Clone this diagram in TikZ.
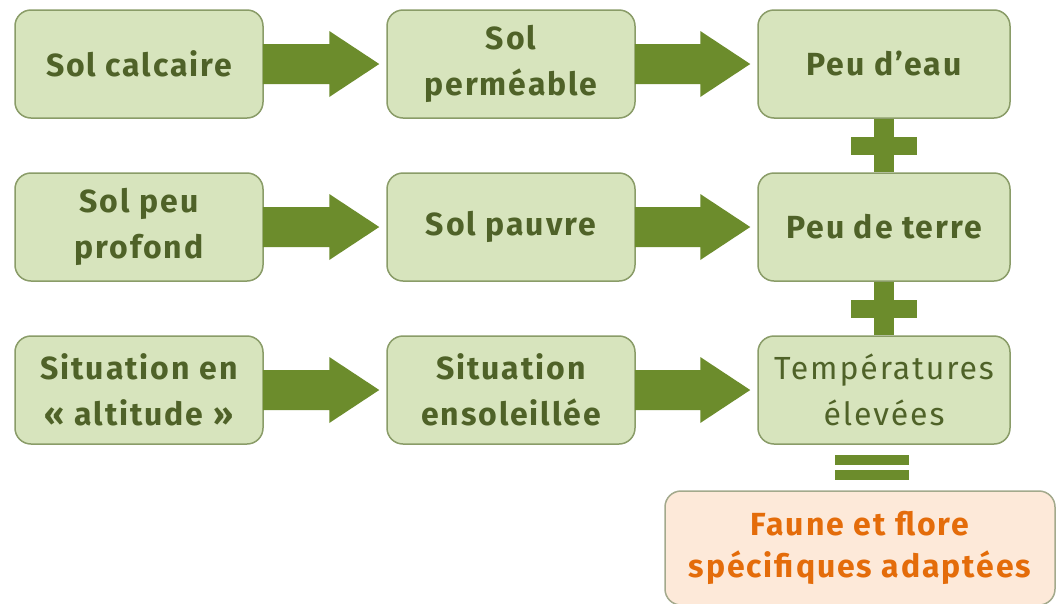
\documentclass[tikz,border=0pt]{standalone}
\usepackage{fontspec}
\setmainfont{Fira Sans}[LetterSpace=6]
\usetikzlibrary{calc}
\definecolor{boxfill}{HTML}{D7E4BD}
\definecolor{boxdraw}{HTML}{8A9C68}
\definecolor{txt}{HTML}{4F6228}
\definecolor{arr}{HTML}{6C8C2C}
\definecolor{endfill}{HTML}{FDE9D9}
\definecolor{enddraw}{HTML}{A3A98C}
\definecolor{endtxt}{HTML}{E46C0A}
\newcommand{\flowarrow}[2]{%
  \fill[arr] ($(#1.east)+(-1,-20)$) -- ($(#2.west)+(-57,-20)$) -- ($(#2.west)+(-57,-33)$)
    -- ($(#2.west)+(-7,0)$) -- ($(#2.west)+(-57,33)$) -- ($(#2.west)+(-57,20)$)
    -- ($(#1.east)+(-1,20)$) -- cycle;}
\newcommand{\plussign}[2]{%
  \fill[arr] ($(#1.south)+(-10,0)$) rectangle ($(#2.north)+(10,0)$);
  \fill[arr] ($($(#1.south)!0.5!(#2.north)$)+(-33,-9)$) rectangle ($($(#1.south)!0.5!(#2.north)$)+(33,9)$);}
\begin{document}
\begin{tikzpicture}[x=1pt,y=-1pt,
  gbox/.style={draw=boxdraw, line width=1.5pt, fill=boxfill, rounded corners=16pt,
    minimum width=248pt, minimum height=108pt, align=center, text=txt,
    font=\fontsize{32}{46}\selectfont\bfseries, inner sep=0pt},
  gboxlight/.style={gbox, font=\fontsize{32}{46}\selectfont},
  fbox/.style={draw=enddraw, line width=1.5pt, fill=endfill, rounded corners=16pt,
    minimum width=390pt, minimum height=114pt, align=center, text=endtxt,
    font=\fontsize{32}{42}\selectfont\bfseries, inner sep=0pt}]
\useasboundingbox (0,0) rectangle (1057,603);
\clip (0,0) rectangle (1057,603);
\fill[white] (0,0) rectangle (1057,603);
% row 1
\node[gbox] (a1) at (139,64) {Sol calcaire};
\node[gbox] (a2) at (511,64) {Sol\\perméable};
\node[gbox, minimum width=252pt] (a3) at (884,64) {Peu d’eau};
% row 2
\node[gbox] (b1) at (139,227) {Sol peu\\profond};
\node[gbox] (b2) at (511,227) {Sol pauvre};
\node[gbox, minimum width=252pt] (b3) at (884,227) {Peu de terre};
% row 3
\node[gbox] (c1) at (139,390) {Situation en\\« altitude »};
\node[gbox] (c2) at (511,390) {Situation\\ensoleillée};
\node[gboxlight, minimum width=252pt] (c3) at (884,390) {Températures\\élevées};
% result
\node[fbox] (r) at (860,548) {Faune et flore\\spécifiques adaptées};
% arrows
\flowarrow{a1}{a2}
\flowarrow{a2}{a3}
\flowarrow{b1}{b2}
\flowarrow{b2}{b3}
\flowarrow{c1}{c2}
\flowarrow{c2}{c3}
% plus signs
\plussign{a3}{b3}
\plussign{b3}{c3}
% equals sign
\coordinate (eq) at ($(c3.south)!0.5!(r.north)$);
\fill[arr] ($(eq)+(-37,-13)$) rectangle ($(eq)+(37,-3)$);
\fill[arr] ($(eq)+(-37,2)$) rectangle ($(eq)+(37,12)$);
\end{tikzpicture}
\end{document}
